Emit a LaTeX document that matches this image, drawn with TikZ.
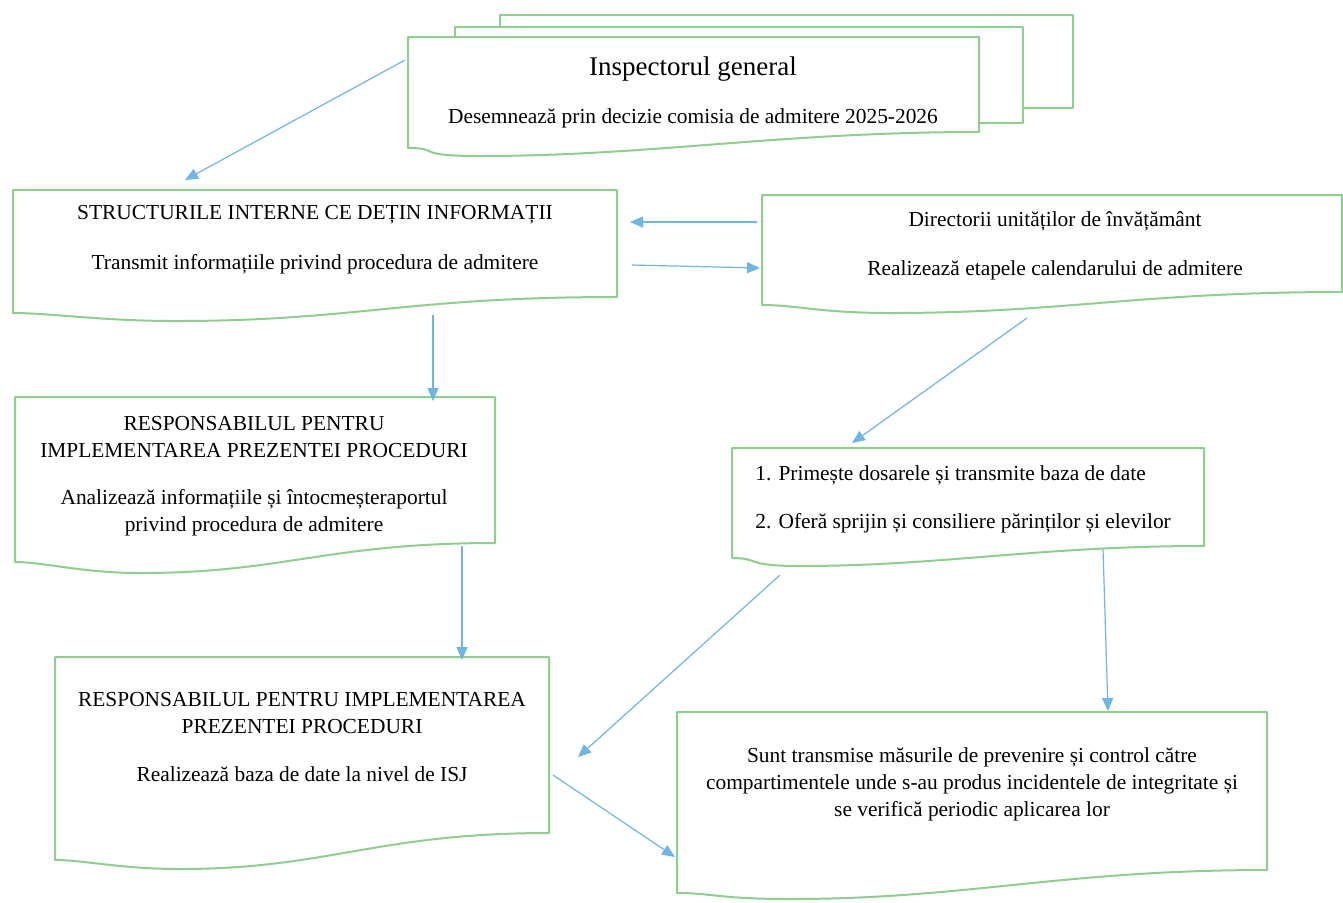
\documentclass[tikz,border=0pt]{standalone}
\usepackage{fontspec}
\setmainfont{Liberation Serif}
\usetikzlibrary{arrows.meta}
\definecolor{boxgreen}{RGB}{140,208,140}
\definecolor{arrblue}{RGB}{110,182,232}
\tikzset{
  docbox/.style={draw=boxgreen, line width=1pt, fill=white, line join=round},
  conn/.style={draw=arrblue, line width=0.6pt, -{Triangle[length=6.5pt,width=5.5pt]}},
  txt/.style={inner sep=0pt, align=center, font=\fontsize{10.7}{13.5}\selectfont},
  bigtxt/.style={inner sep=0pt, align=center, font=\fontsize{13.5}{16}\selectfont}
}
\newcommand{\docpath}[7]{% x1,x2,top,right-bottom,left-bottom,minx,miny
  \pgfmathsetmacro{\dpW}{#2-#1}
  \pgfmathsetmacro{\dpA}{#2-0.35*\dpW}
  \pgfmathsetmacro{\dpB}{#6+0.3*\dpW}
  \pgfmathsetmacro{\dpC}{#6-0.12*\dpW}
  \pgfmathsetmacro{\dpD}{#1+0.06*\dpW}
  \draw[docbox] (#1,#3) -- (#2,#3) -- (#2,#4) .. controls (\dpA,#4) and (\dpB,#7) .. (#6,#7) .. controls (\dpC,#7) and (\dpD,#5) .. (#1,#5) -- cycle;
}
\begin{document}
\begin{tikzpicture}[x=0.5pt,y=-0.5pt]
\useasboundingbox[fill=white] (0,0) rectangle (1343,902);

% Inspector stack
\draw[docbox] (500,15) rectangle (1073,108);
\draw[docbox] (455,27) rectangle (1023,123);
\docpath{408}{979}{37}{132}{148}{480}{156}
\node[bigtxt] (insp) at (693,69) {Inspectorul general};
\node[txt] (inspB) at (693,118) {Desemnează prin decizie comisia de admitere 2025-2026};

% Structurile
\docpath{13}{617}{190}{297}{313}{175}{321}
\node[txt] (str) at (315,215) {STRUCTURILE INTERNE CE DEȚIN INFORMAȚII};
\node[txt] (strB) at (315,264) {Transmit informațiile privind procedura de admitere};

% Directorii
\docpath{762}{1342}{195}{292}{305}{890}{313}
\node[txt] (dir) at (1055,221) {Directorii unităților de învățământ};
\node[txt] (dirB) at (1055,270) {Realizează etapele calendarului de admitere};

% Responsabilul 1
\docpath{15}{495}{397}{543}{562}{140}{573}
\node[txt] (resp1) at (254,437) {RESPONSABILUL PENTRU\\IMPLEMENTAREA PREZENTEI PROCEDURI};
\node[txt] (resp1B) at (254,513) {Analizează informațiile și întocmeșteraportul\\privind procedura de admitere};

% List box
\docpath{732}{1204}{448}{546}{558}{800}{566}
\node[txt, anchor=west] (list1) at (755,475) {1. Primește dosarele și transmite baza de date};
\node[txt, anchor=west] (list2) at (755,523) {2. Oferă sprijin și consiliere părinților și elevilor};

% Responsabilul 2
\docpath{55}{549}{657}{833}{860}{180}{869}
\node[txt] (resp2) at (302,713) {RESPONSABILUL PENTRU IMPLEMENTAREA\\PREZENTEI PROCEDURI};
\node[txt] (resp2B) at (302,774) {Realizează baza de date la nivel de ISJ};

% Bottom right
\docpath{677}{1267}{712}{870}{893}{790}{899}
\node[txt] (meas) at (972,784) {Sunt transmise măsurile de prevenire și control către\\compartimentele unde s-au produs incidentele de integritate și\\se verifică periodic aplicarea lor};

% connector endpoints
\coordinate (a1s) at (405,60);   \coordinate (a1e) at (185,180);
\coordinate (a2s) at (757,222);  \coordinate (a2e) at (630,222);
\coordinate (a3s) at (632,265);  \coordinate (a3e) at (760,268);
\coordinate (a4s) at (433,315);  \coordinate (a4e) at (433,401);
\coordinate (a5s) at (1027,318); \coordinate (a5e) at (852,443);
\coordinate (a6s) at (462,546);  \coordinate (a6e) at (462,660);
\coordinate (a7s) at (780,575);  \coordinate (a7e) at (578,757);
\coordinate (a8s) at (1103,549); \coordinate (a8e) at (1108,711);
\coordinate (a9s) at (553,775);  \coordinate (a9e) at (675,857);

\draw[conn] (a1s) -- (a1e);
\draw[conn] (a2s) -- (a2e);
\draw[conn] (a3s) -- (a3e);
\draw[conn] (a4s) -- (a4e);
\draw[conn] (a5s) -- (a5e);
\draw[conn] (a6s) -- (a6e);
\draw[conn] (a7s) -- (a7e);
\draw[conn] (a8s) -- (a8e);
\draw[conn] (a9s) -- (a9e);
\end{tikzpicture}
\end{document}
